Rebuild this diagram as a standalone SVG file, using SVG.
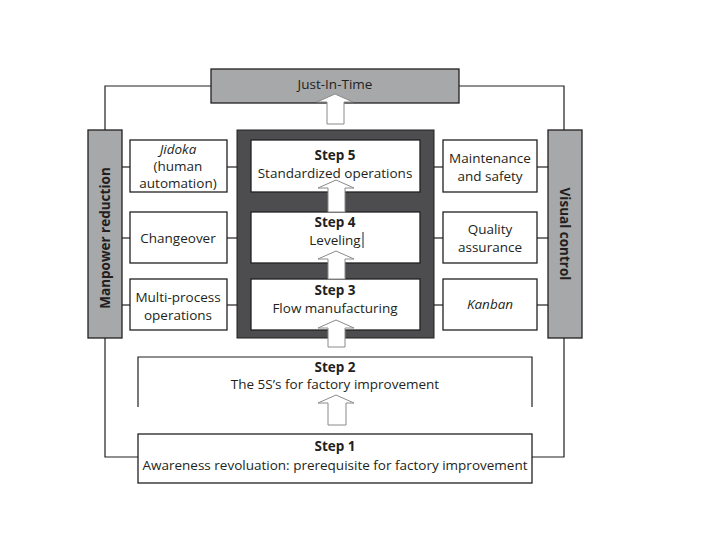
<svg xmlns="http://www.w3.org/2000/svg" width="720" height="540" viewBox="0 0 720 540">
<style>
text{font-family:"Open Sans","Noto Sans","Liberation Sans",sans-serif;font-size:13.5px;fill:#231f20;text-anchor:middle}
.b{font-weight:bold}
.i{font-style:italic}
.box{fill:#fff;stroke:#231f20;stroke-width:1.3}
.gray{fill:#a7a8aa;stroke:#231f20;stroke-width:1.3}
.dark{fill:#4d4d4f;stroke:#231f20;stroke-width:1}
.ln{fill:none;stroke:#231f20;stroke-width:1.2}
.arr{fill:#fff;stroke:#8a8a8a;stroke-width:1}
</style>
<rect width="720" height="540" fill="#fff"/>
<g id="connectors">
<polyline class="ln" points="211,86 105,86 105,130"/>
<polyline class="ln" points="459,86 564,86 564,130"/>
<polyline class="ln" points="105,338 105,457 138,457"/>
<polyline class="ln" points="564,338 564,457 532,457"/>
<line class="ln" x1="122" y1="167" x2="130" y2="167"/>
<line class="ln" x1="122" y1="238" x2="130" y2="238"/>
<line class="ln" x1="122" y1="305" x2="130" y2="305"/>
<line class="ln" x1="227" y1="167" x2="237" y2="167"/>
<line class="ln" x1="227" y1="238" x2="237" y2="238"/>
<line class="ln" x1="227" y1="305" x2="237" y2="305"/>
<line class="ln" x1="434" y1="167" x2="443" y2="167"/>
<line class="ln" x1="434" y1="238" x2="443" y2="238"/>
<line class="ln" x1="434" y1="305" x2="443" y2="305"/>
<line class="ln" x1="537" y1="167" x2="548" y2="167"/>
<line class="ln" x1="537" y1="238" x2="548" y2="238"/>
<line class="ln" x1="537" y1="305" x2="548" y2="305"/>
</g>
<g id="jit">
<rect class="gray" x="211" y="69" width="248" height="34"/>
<text x="335" y="89">Just-In-Time</text>
</g>
<g id="manpower">
<rect class="gray" x="88" y="130" width="34" height="208"/>
<text class="b" transform="translate(110,238) rotate(-90)">Manpower reduction</text>
</g>
<g id="visual">
<rect class="gray" x="548" y="130" width="34" height="208"/>
<text class="b" transform="translate(560,234) rotate(90)">Visual control</text>
</g>
<g id="panel">
<rect class="dark" x="237" y="130" width="197" height="208"/>
</g>
<g id="jidoka">
<rect class="box" x="130" y="140" width="97" height="52"/>
<text class="i" x="178" y="154">Jidoka</text>
<text x="178" y="171">(human</text>
<text x="178" y="188">automation)</text>
</g>
<g id="changeover">
<rect class="box" x="130" y="212" width="97" height="51"/>
<text x="178" y="243">Changeover</text>
</g>
<g id="multiprocess">
<rect class="box" x="130" y="279" width="97" height="51"/>
<text x="178" y="302">Multi-process</text>
<text x="178" y="320">operations</text>
</g>
<g id="maintenance">
<rect class="box" x="443" y="140" width="94" height="52"/>
<text x="490" y="163">Maintenance</text>
<text x="490" y="181">and safety</text>
</g>
<g id="quality">
<rect class="box" x="443" y="212" width="94" height="51"/>
<text x="490" y="234">Quality</text>
<text x="490" y="252">assurance</text>
</g>
<g id="kanban">
<rect class="box" x="443" y="279" width="94" height="51"/>
<text class="i" x="490" y="309">Kanban</text>
</g>
<g id="step5">
<rect class="box" x="251" y="140" width="169" height="52"/>
<text class="b" x="335" y="160">Step 5</text>
<text x="335" y="178">Standardized operations</text>
</g>
<g id="step4">
<rect class="box" x="251" y="212" width="169" height="51"/>
<text class="b" x="335" y="227">Step 4</text>
<text x="335" y="245">Leveling</text>
<line x1="363" y1="232" x2="363" y2="248" stroke="#231f20" stroke-width="1"/>
</g>
<g id="step3">
<rect class="box" x="251" y="279" width="169" height="51"/>
<text class="b" x="335" y="295">Step 3</text>
<text x="335" y="313">Flow manufacturing</text>
</g>
<g id="step2">
<polyline class="ln" points="138,407 138,357 532,357 532,407"/>
<text class="b" x="335" y="372">Step 2</text>
<text x="335" y="389">The 5S’s  for factory  improvement</text>
</g>
<g id="step1">
<rect class="box" x="138" y="434" width="394" height="49"/>
<text class="b" x="335" y="451">Step 1</text>
<text x="335" y="470">Awareness revoluation: prerequisite for factory improvement</text>
</g>
<g id="arrows">
<path class="arr" d="M335,94 L353,102 L344,102 L344,124 L327,124 L327,102 L317,102 Z"/>
<path class="arr" d="M336,180 L354,188 L345,188 L345,212 L328,212 L328,188 L318,188 Z"/>
<path class="arr" d="M336,251 L354,259 L345,259 L345,279 L328,279 L328,259 L318,259 Z"/>
<path class="arr" d="M336,320 L354,328 L345,328 L345,347 L328,347 L328,328 L318,328 Z"/>
<path class="arr" d="M336,395 L354,403 L346,403 L346,425 L328,425 L328,403 L318,403 Z"/>
</g>
</svg>
